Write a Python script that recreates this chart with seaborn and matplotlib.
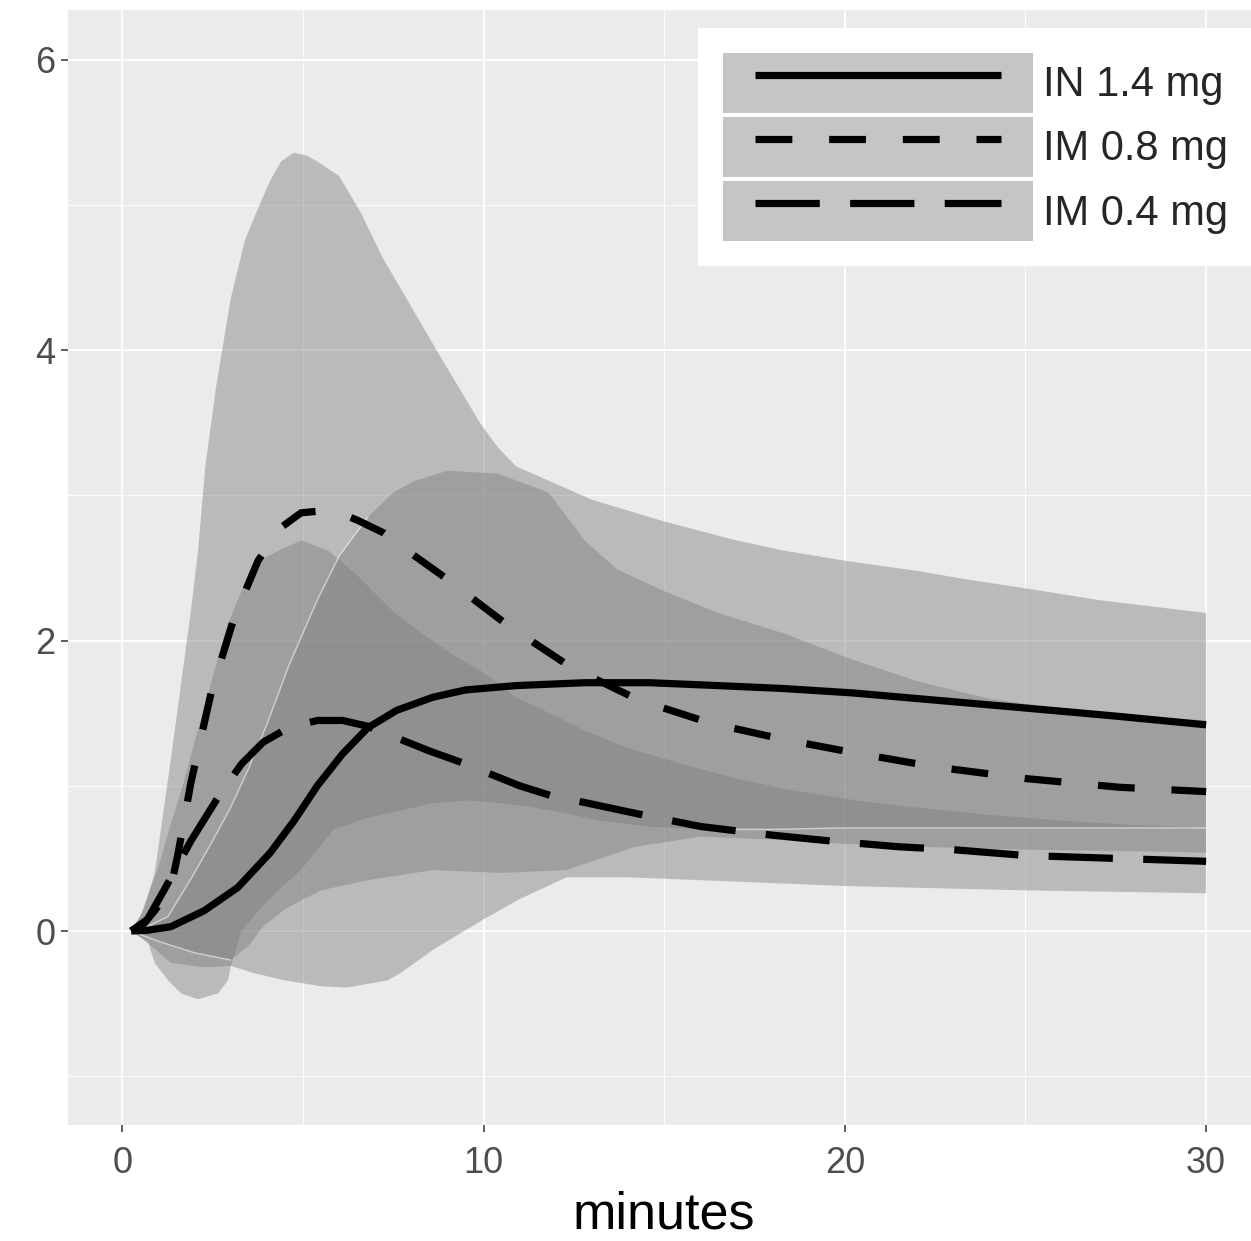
import numpy as np
import pandas as pd
import matplotlib
matplotlib.use("Agg")
import matplotlib.pyplot as plt
import seaborn as sns
from matplotlib.patches import Patch
from matplotlib.lines import Line2D
from matplotlib.legend_handler import HandlerTuple, HandlerLine2D

# ---- median concentration curves -------------------------------------------
in14_t = [0.25, 0.7, 1.35, 2.27, 3.2, 4.1, 4.76, 5.4, 6.1, 6.8, 7.6, 8.6, 9.5,
          10.9, 12.8, 14.6, 16.5, 18.3, 20.2, 22.5, 24.8, 27.5, 30.0]
in14_v = [0.0, 0.005, 0.03, 0.14, 0.3, 0.54, 0.76, 1.0, 1.22, 1.40, 1.52, 1.61,
          1.66, 1.69, 1.71, 1.71, 1.69, 1.67, 1.64, 1.59, 1.54, 1.48, 1.42]

im08_t = [0.25, 0.6, 0.9, 1.35, 1.55, 1.9, 2.46, 3.1, 3.76, 4.4, 4.95, 5.8, 6.5,
          7.25, 8.0, 8.9, 9.8, 10.7, 12.4, 14.3, 16.3, 18.3, 20.2, 22.5, 25.0,
          27.6, 30.0]
im08_v = [0.0, 0.05, 0.14, 0.3, 0.54, 1.02, 1.64, 2.16, 2.55, 2.78, 2.88, 2.9,
          2.83, 2.74, 2.6, 2.44, 2.27, 2.1, 1.82, 1.59, 1.43, 1.32, 1.23, 1.13,
          1.05, 0.99, 0.96]

im04_t = [0.25, 0.7, 1.2, 1.9, 2.65, 3.3, 3.9, 4.6, 5.4, 6.1, 6.8, 7.7, 8.5, 9.4,
          10.1, 11.0, 11.9, 12.7, 14.4, 16.0, 18.0, 19.6, 21.5, 23.0, 25.0,
          27.5, 30.0]
im04_v = [0.0, 0.08, 0.3, 0.62, 0.92, 1.15, 1.3, 1.4, 1.45, 1.45, 1.41, 1.32,
          1.24, 1.16, 1.09, 1.0, 0.93, 0.89, 0.8, 0.72, 0.66, 0.62, 0.58, 0.56,
          0.52, 0.5, 0.48]

# ---- interval bands (upper / lower edges) -----------------------------------
im08_up_t = [0.25, 0.6, 0.9, 1.1, 1.3, 1.6, 1.9, 2.1, 2.3, 2.6, 3.0, 3.4, 3.8,
             4.1, 4.4, 4.75, 5.1, 5.4, 5.7, 6.0, 6.6, 7.2, 8.0, 8.7, 9.3, 9.9,
             10.4, 10.9, 12.0, 13.0, 15.0, 17.0, 18.3, 20.0, 22.0, 23.4, 25.0,
             27.0, 30.0]
im08_up_v = [0.0, 0.15, 0.4, 0.75, 1.1, 1.65, 2.2, 2.62, 3.2, 3.75, 4.35, 4.76,
             5.0, 5.17, 5.3, 5.36, 5.34, 5.3, 5.25, 5.2, 4.95, 4.64, 4.3, 4.0,
             3.75, 3.5, 3.33, 3.2, 3.08, 2.97, 2.82, 2.69, 2.62, 2.55, 2.48,
             2.42, 2.36, 2.28, 2.19]
im08_lo_t = [0.25, 1.0, 2.0, 3.0, 3.5, 3.9, 4.5, 4.95, 5.5, 6.8, 8.6, 10.5, 12.3,
             14.2, 16.0, 18.0, 20.0, 22.0, 25.0, 28.0, 30.0]
im08_lo_v = [0.0, -0.07, -0.15, -0.2, -0.1, 0.03, 0.15, 0.21, 0.28, 0.35, 0.42,
             0.40, 0.42, 0.58, 0.65, 0.63, 0.60, 0.58, 0.56, 0.55, 0.54]

in14_up_t = [0.25, 0.7, 1.27, 2.0, 2.5, 3.0, 3.5, 4.0, 4.6, 5.0, 5.4, 6.0, 6.8,
             7.5, 8.1, 9.0, 10.4, 11.8, 12.8, 13.7, 15.1, 16.5, 18.3, 20.2,
             22.0, 24.0, 26.0, 28.0, 30.0]
in14_up_v = [0.0, 0.03, 0.1, 0.4, 0.62, 0.85, 1.12, 1.42, 1.82, 2.05, 2.28, 2.58,
             2.85, 3.02, 3.1, 3.17, 3.15, 3.02, 2.69, 2.49, 2.33, 2.19, 2.05,
             1.87, 1.72, 1.6, 1.53, 1.48, 1.45]
in14_lo_t = [0.25, 0.72, 0.9, 1.27, 1.63, 2.1, 2.65, 2.93, 3.0, 3.3, 3.8, 4.4,
             4.95, 5.4, 5.86, 6.8, 7.7, 8.6, 9.6, 10.5, 11.4, 12.3, 13.2, 14.5,
             16.0, 18.0, 20.0, 25.0, 30.0]
in14_lo_v = [0.0, -0.08, -0.22, -0.34, -0.43, -0.47, -0.43, -0.34, -0.25, 0.0,
             0.15, 0.3, 0.42, 0.56, 0.70, 0.78, 0.83, 0.88, 0.90, 0.88, 0.85,
             0.81, 0.76, 0.72, 0.70, 0.70, 0.71, 0.71, 0.71]

im04_up_t = [0.25, 0.5, 1.0, 1.3, 1.7, 2.0, 2.46, 2.9, 3.4, 4.0, 4.95, 5.7, 6.5,
             7.5, 8.3, 9.1, 10.0, 10.9, 12.0, 12.8, 14.0, 15.5, 17.0, 18.5,
             20.3, 22.0, 24.0, 26.0, 28.0, 30.0]
im04_up_v = [0.0, 0.1, 0.44, 0.7, 1.02, 1.3, 1.71, 2.1, 2.4, 2.58, 2.69, 2.62,
             2.45, 2.2, 2.05, 1.91, 1.78, 1.61, 1.48, 1.38, 1.26, 1.15, 1.05,
             0.97, 0.9, 0.85, 0.8, 0.76, 0.73, 0.71]
im04_lo_t = [0.25, 0.7, 1.35, 2.27, 3.0, 3.65, 4.5, 5.5, 6.2, 7.35, 7.7, 8.6, 9.6,
             10.0, 11.0, 12.3, 14.0, 16.0, 18.0, 20.0, 25.0, 30.0]
im04_lo_v = [0.0, -0.08, -0.22, -0.25, -0.24, -0.29, -0.34, -0.38, -0.39, -0.34,
             -0.29, -0.13, 0.02, 0.08, 0.22, 0.37, 0.37, 0.35, 0.33, 0.31, 0.28,
             0.26]

labels = ["IN 1.4 mg", "IM 0.8 mg", "IM 0.4 mg"]
x_ticks = [0, 10, 20, 30]
y_ticks = [0, 2, 4, 6]

# ---- styling ------------------------------------------------------------------
sns.set_theme(style="darkgrid")
plt.rcParams["font.family"] = ["Liberation Sans", "DejaVu Sans"]

PANEL = "#EBEBEB"
BAND = "#7F7F7F"
BAND_ALPHA = 0.45
LW = 5.2
dash_map = {"IN 1.4 mg": "", "IM 0.8 mg": (5.1, 5.1), "IM 0.4 mg": (8.9, 4.2)}

fig = plt.figure(figsize=(12.51, 12.41), dpi=100)
fig.patch.set_facecolor("white")
ax = fig.add_axes([0.05436, 0.09347, 0.9531, 0.8985])
ax.set_facecolor(PANEL)
for s in ax.spines.values():
    s.set_visible(False)

# bands drawn as closed polygons (upper edge forward, lower edge back)
bands = [
    (im08_up_t, im08_up_v, im08_lo_t, im08_lo_v),
    (in14_up_t, in14_up_v, in14_lo_t, in14_lo_v),
    (im04_up_t, im04_up_v, im04_lo_t, im04_lo_v),
]
for ut, uv, lt, lv in bands:
    px = np.concatenate([ut, lt[::-1]])
    py = np.concatenate([uv, lv[::-1]])
    ax.fill(px, py, facecolor=BAND, alpha=BAND_ALPHA, edgecolor="none", zorder=1)

# faint seams along a few band edges
seam_kw = dict(color="white", alpha=0.55, lw=1.0, zorder=1.5)
ax.plot(in14_up_t[:13], in14_up_v[:13], **seam_kw)
ax.plot(im08_lo_t[:4], im08_lo_v[:4], **seam_kw)
ax.plot(in14_lo_t[24:], in14_lo_v[24:], **seam_kw)

# median curves
df = pd.concat([
    pd.DataFrame({"minutes": in14_t, "value": in14_v, "dose": labels[0]}),
    pd.DataFrame({"minutes": im08_t, "value": im08_v, "dose": labels[1]}),
    pd.DataFrame({"minutes": im04_t, "value": im04_v, "dose": labels[2]}),
], ignore_index=True)
sns.lineplot(data=df, x="minutes", y="value", style="dose", style_order=labels,
             dashes=dash_map, color="black", linewidth=LW, estimator=None,
             sort=False, legend=False, ax=ax, zorder=3)
for ln in ax.get_lines()[-3:]:
    ln.set_dash_capstyle("butt")
    ln.set_solid_capstyle("butt")
    ln.set_solid_joinstyle("round")

# axes, ticks, grid
ax.set_xlim(-1.5, 31.5)
ax.set_ylim(-1.336, 6.343)
ax.set_xticks(x_ticks)
ax.set_yticks(y_ticks)
ax.set_xticks([5, 15, 25], minor=True)
ax.set_yticks([-1, 1, 3, 5], minor=True)
ax.set_axisbelow(True)
ax.grid(which="major", color="white", lw=1.3, zorder=0)
ax.grid(which="minor", color="white", lw=0.6, zorder=0)
ax.tick_params(which="major", length=5, width=1.1, color="#333333",
               labelsize=26, labelcolor="#4D4D4D", direction="out",
               bottom=True, left=True)
ax.tick_params(axis="x", which="major", pad=10)
ax.tick_params(axis="y", which="major", pad=4)
ax.tick_params(which="minor", length=0)
ax.set_xlabel("minutes", fontsize=37.5, color="black", labelpad=7)
ax.set_ylabel("")

# legend: band swatch with an inset line drawn across it
handles = []
for lab in labels:
    ls = "-" if dash_map[lab] == "" else (0, dash_map[lab])
    handles.append((Patch(facecolor=BAND, alpha=BAND_ALPHA, edgecolor="none"),
                    Line2D([], [], color="black", lw=LW, linestyle=ls,
                           solid_capstyle="butt", dash_capstyle="butt")))
leg = ax.legend(handles, labels,
                handler_map={tuple: HandlerTuple(ndivide=1),
                             Line2D: HandlerLine2D(numpoints=2, marker_pad=0.78)},
                loc="upper left", bbox_to_anchor=(0.528, 0.9839),
                borderaxespad=0, fontsize=30, handlelength=7.46,
                handleheight=1.837, labelspacing=0.1, handletextpad=0.24,
                borderpad=0.6, frameon=True, fancybox=False, framealpha=1)
leg.get_frame().set_facecolor("white")
leg.get_frame().set_edgecolor("none")
leg.set_zorder(5)

fig.savefig("out.png", dpi=100, facecolor="white")
